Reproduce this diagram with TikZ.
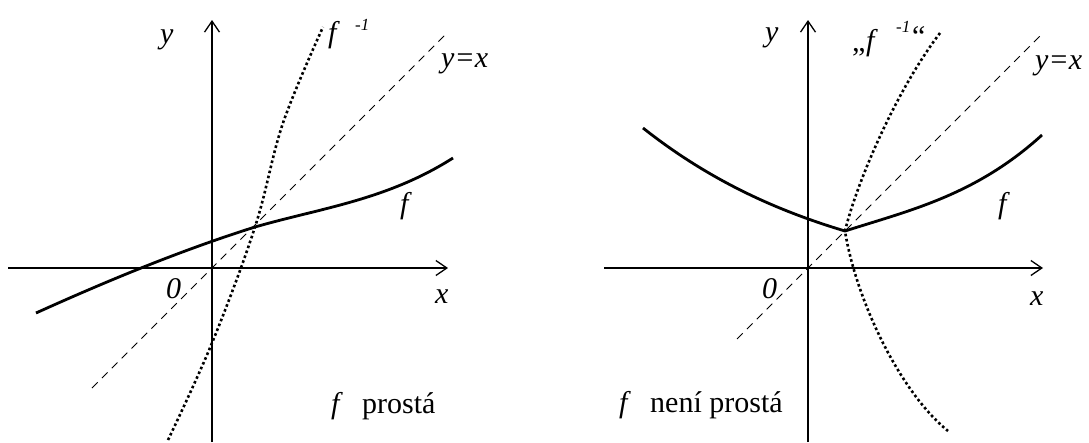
\documentclass[tikz,border=0pt]{standalone}
\usepackage{fontspec}
\setmainfont{Liberation Serif}
\usetikzlibrary{arrows.meta}
\begin{document}
\begin{tikzpicture}[x=1pt,y=-1pt,
  axis/.style={line width=1.3pt,-{Straight Barb[length=11pt,width=15pt]}},
  fcurve/.style={line width=2.8pt},
  invcurve/.style={line width=2.6pt,dash pattern=on 2.6pt off 2.6pt},
  diag/.style={line width=1pt,dash pattern=on 8pt off 6pt},
  lbl/.style={inner sep=0pt,anchor=base west,font=\fontsize{30}{34}\selectfont\itshape},
  suplbl/.style={inner sep=0pt,anchor=base west,font=\fontsize{17}{19}\selectfont\itshape},
  txt/.style={inner sep=0pt,anchor=base west,font=\fontsize{30}{34}\selectfont}]
\useasboundingbox (0,0) rectangle (1089,442);
% ---------- left panel ----------
\coordinate (LxS) at (8,268);
\coordinate (LxE) at (448,268);
\coordinate (LyS) at (212,442);
\coordinate (LyE) at (212,20);
\coordinate (LdS) at (92,388);
\coordinate (LdE) at (445,35);
\draw[axis] (LxS) -- (LxE);
\draw[axis] (LyS) -- (LyE);
\draw[diag] (LdS) -- (LdE);
\draw[fcurve] (36,313) .. controls (109,280) and (182,250) .. (255,227)
  .. controls (321,208) and (387,200) .. (453,158);
\draw[invcurve] plot[smooth,tension=0.6] coordinates {(168,440) (212,343) (255,227) (283,123) (323,27)};
\node[lbl] (Lylab) at (160,43) {y};
\node[lbl] (Lfinv) at (328,42) {f};
\node[suplbl] (Lfinvsup) at (355,30) {-1};
\node[lbl] (Lyx) at (441,67) {y=x};
\node[lbl] (Lf) at (400,213) {f};
\node[lbl] (L0) at (166,298) {0};
\node[lbl] (Lx) at (435,303) {x};
\node[lbl] (Lpf) at (331,413) {f};
\node[txt] (Lpt) at (362,413) {prostá};
% ---------- right panel ----------
\coordinate (RxS) at (604,268);
\coordinate (RxE) at (1043,268);
\coordinate (RyS) at (808,442);
\coordinate (RyE) at (808,20);
\coordinate (RdS) at (737,339);
\coordinate (RdE) at (1043,33);
\draw[axis] (RxS) -- (RxE);
\draw[axis] (RyS) -- (RyE);
\draw[diag] (RdS) -- (RdE);
\draw[fcurve,line join=miter] (643,128) .. controls (710,181) and (778,211) .. (845,231)
  .. controls (911,210) and (976,195) .. (1042,135);
\draw[invcurve] (940,33) .. controls (895,92) and (856,185) .. (845,231)
  .. controls (856,300) and (900,392) .. (948,431);
\node[lbl] (Rylab) at (765,41) {y};
\node[txt] (Rq1) at (852,51) {„};
\node[lbl] (Rfinv) at (866,50) {f};
\node[suplbl] (Rfinvsup) at (896,32) {-1};
\node[txt] (Rq2) at (912,46) {“};
\node[lbl] (Ryx) at (1035,69) {y=x};
\node[lbl] (Rf) at (998,213) {f};
\node[lbl] (R0) at (762,298) {0};
\node[lbl] (Rx) at (1030,305) {x};
\node[lbl] (Rpf) at (619,412) {f};
\node[txt] (Rpt) at (650,412) {není prostá};
\end{tikzpicture}
\end{document}
